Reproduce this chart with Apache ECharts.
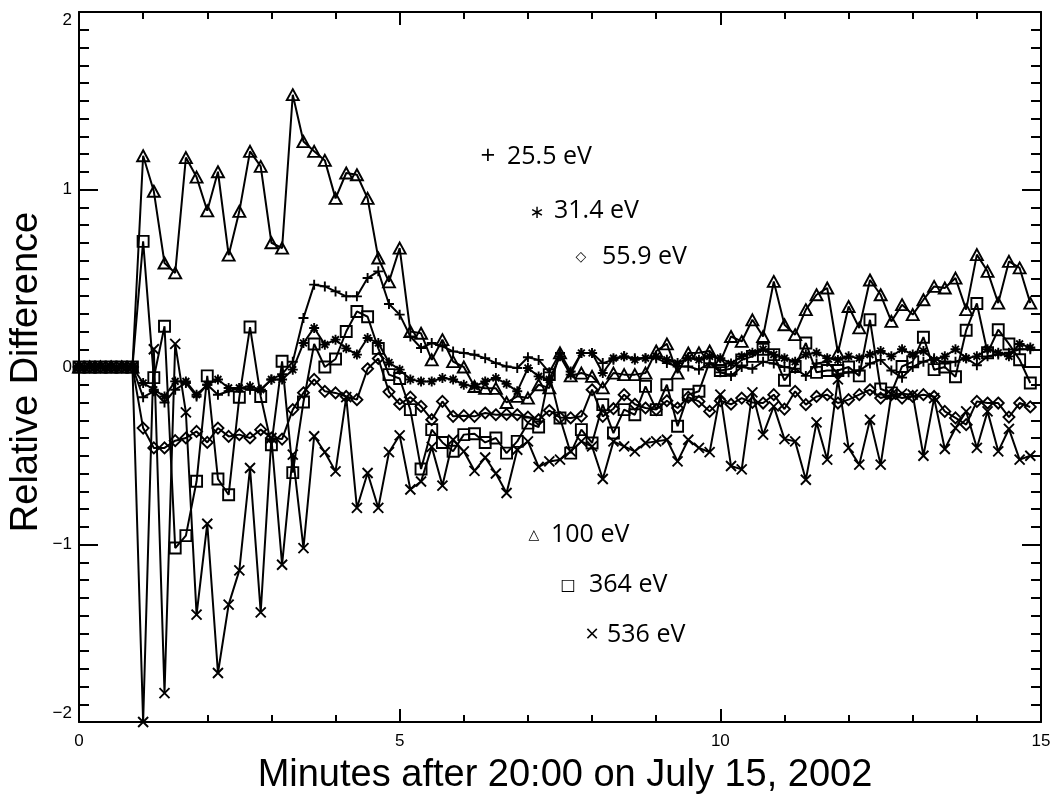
<!DOCTYPE html>
<html><head><meta charset="utf-8">
<script src="https://cdn.jsdelivr.net/npm/echarts@6/dist/echarts.min.js"></script>
<style>html,body{margin:0;padding:0;background:#fff}#chart{width:1058px;height:797px}</style>
</head><body><div id="chart"></div>
<script>
// Samples every 10 s (1/6 minute), index 0..89
const sampleStepMinutes = 1 / 6;

const ev25 = [0,0,0,0,0,0,
 -0.17,-0.137,-0.2,-0.128,-0.09,-0.166,-0.1,-0.156,-0.137,-0.118,-0.128,-0.128,-0.07,-0.04,
 0.03,0.276,0.464,0.454,0.426,0.398,0.398,0.501,0.539,0.355,
 0.295,0.172,0.107,0.135,0.116,0.088,0.079,0.069,0.05,0.022,
 0.003,-0.006,0.055,0.04,-0.03,0.079,-0.025,0.079,0.079,0.022,
 0.041,0.06,0.05,0.05,0.05,0.022,0.003,0.003,-0.015,0.022,
 -0.03,-0.05,0.0,-0.01,0.03,0.02,0.0,-0.01,-0.05,0.02,
 0.03,-0.04,-0.03,-0.02,0.02,0.04,-0.02,-0.06,0.0,0.03,
 0.05,0.02,0.03,0.05,0.01,0.06,0.07,0.08,0.1,0.1];

const ev31 = [0,0,0,0,0,0,
 -0.09,-0.128,-0.166,-0.081,-0.081,-0.156,-0.1,-0.07,-0.118,-0.118,-0.109,-0.128,-0.07,-0.07,
 -0.015,0.135,0.22,0.126,0.154,0.105,0.07,0.163,0.135,0.025,
 -0.015,-0.07,-0.081,-0.081,-0.062,-0.07,-0.1,-0.109,-0.081,-0.062,
 -0.095,-0.137,-0.006,-0.053,-0.07,0.06,-0.043,0.079,0.079,-0.034,
 0.05,0.06,0.041,0.05,0.06,0.041,0.022,0.05,0.041,0.06,
 0.05,0.02,0.06,0.08,0.1,0.07,0.05,0.03,0.07,0.08,
 0.05,0.04,0.06,0.05,0.07,0.09,0.06,0.1,0.07,0.09,
 0.04,0.06,0.1,0.05,0.06,0.1,0.08,0.06,0.13,0.11];

const ev56 = [0,0,0,0,0,0,
 -0.344,-0.456,-0.456,-0.415,-0.4,-0.363,-0.425,-0.344,-0.391,-0.381,-0.4,-0.353,-0.4,-0.406,
 -0.24,-0.145,-0.07,-0.137,-0.146,-0.166,-0.184,-0.01,0.048,-0.14,
 -0.21,-0.17,-0.222,-0.297,-0.194,-0.278,-0.274,-0.278,-0.259,-0.269,
 -0.267,-0.269,-0.282,-0.297,-0.245,-0.285,-0.287,-0.278,-0.128,-0.278,
 -0.235,-0.156,-0.21,-0.231,-0.24,-0.19,-0.231,-0.17,-0.194,-0.25,
 -0.19,-0.21,-0.175,-0.2,-0.203,-0.156,-0.237,-0.137,-0.212,-0.166,
 -0.156,-0.203,-0.184,-0.156,-0.128,-0.175,-0.156,-0.175,-0.166,-0.156,
 -0.166,-0.25,-0.287,-0.325,-0.194,-0.203,-0.203,-0.282,-0.203,-0.225];

const ev100 = [0,0,0,0,0,0,
 1.19,0.99,0.586,0.53,1.18,1.07,0.88,1.10,0.63,0.877,1.215,1.13,0.70,0.67,
 1.534,1.27,1.215,1.164,0.95,1.093,1.083,0.95,0.614,0.48,
 0.67,0.2,0.19,0.04,0.154,0.03,0.0,-0.11,-0.12,-0.12,
 -0.2,-0.165,-0.175,-0.1,-0.118,0.08,-0.05,-0.034,-0.053,-0.118,
 -0.034,-0.043,-0.043,-0.034,0.09,0.13,-0.034,0.079,0.08,0.09,
 0.03,0.172,0.144,0.266,0.172,0.482,0.238,0.182,0.323,0.407,
 0.445,0.079,0.341,0.22,0.49,0.407,0.257,0.351,0.295,0.379,
 0.454,0.445,0.501,0.323,0.633,0.539,0.36,0.595,0.558,0.36];

const ev364 = [0,0,0,0,0,0,
 0.708,-0.06,0.23,-1.02,-0.95,-0.644,-0.05,-0.631,-0.72,-0.17,0.225,-0.166,-0.438,0.032,
 -0.595,-0.197,0.13,0.0,0.045,0.2,0.313,0.283,0.105,-0.043,
 -0.065,-0.24,-0.575,-0.353,-0.425,-0.475,-0.381,-0.376,-0.425,-0.4,
 -0.485,-0.419,-0.316,-0.338,-0.043,-0.287,-0.485,-0.353,-0.428,-0.212,
 -0.372,-0.24,-0.269,-0.109,-0.24,-0.1,-0.334,-0.156,-0.137,0.03,
 -0.02,-0.01,0.04,0.06,0.1,0.07,-0.075,0.003,0.135,-0.03,
 -0.02,-0.02,0.0,-0.05,0.266,-0.124,-0.146,0.003,0.03,0.168,
 -0.015,0.0,-0.055,0.207,0.358,0.08,0.21,0.13,0.041,-0.09];

const ev536 = [0,0,0,0,0,0,
 -2.0,0.1,-1.837,0.13,-0.256,-1.395,-0.883,-1.724,-1.339,-1.146,-0.569,-1.382,-0.4,-1.114,
 -0.494,-1.02,-0.39,-0.48,-0.588,-0.17,-0.794,-0.597,-0.794,-0.48,
 -0.385,-0.69,-0.645,-0.45,-0.668,-0.41,-0.475,-0.585,-0.51,-0.6,
 -0.71,-0.466,-0.419,-0.563,-0.532,-0.522,-0.475,-0.419,-0.447,-0.631,
 -0.419,-0.447,-0.475,-0.428,-0.419,-0.41,-0.532,-0.41,-0.456,-0.48,
 -0.156,-0.558,-0.577,-0.143,-0.381,-0.222,-0.406,-0.419,-0.635,-0.312,
 -0.522,-0.07,-0.456,-0.55,-0.297,-0.55,-0.156,-0.15,-0.156,-0.5,
 -0.175,-0.462,-0.344,-0.25,-0.456,-0.25,-0.475,-0.349,-0.522,-0.5];

const seriesNames = ['25.5 eV','31.4 eV','55.9 eV','100 eV','364 eV','536 eV'];
const legendMarks = ['+','\u2217','\u25C7','\u25B3','\u25A1','\u00D7'];
const xTickLabels = ['0','5','10','15'];
const yTickLabels = ['\u22122','\u22121','0','1','2'];
const xTitle = 'Minutes after 20:00 on July 15, 2002';
const yTitle = 'Relative Difference';

const allValues = [ev25, ev31, ev56, ev100, ev364, ev536];

// marker styles (layout/style, not data)
const markerDefs = [
  {symbol:'path://M5,0L5,10M0,5L10,5', size:10},
  {symbol:'path://M5,0L5,10M0,5L10,5M1.6,1.6L8.4,8.4M1.6,8.4L8.4,1.6', size:10},
  {symbol:'diamond', size:[11,11]},
  {symbol:'triangle', size:[12,11]},
  {symbol:'rect', size:11},
  {symbol:'path://M0,0L10,10M0,10L10,0', size:10}
];

const chart = echarts.init(document.getElementById('chart'), null, {renderer:'canvas'});

function toPairs(vals){ return vals.map((v,k)=>[k*sampleStepMinutes, v]); }

const series = allValues.map((vals,i)=>({
  name: seriesNames[i],
  type:'line',
  xAxisIndex:0, yAxisIndex:0,
  data: toPairs(vals),
  symbol: markerDefs[i].symbol,
  symbolSize: markerDefs[i].size,
  showSymbol:true, showAllSymbol:true,
  clip:true,
  lineStyle:{color:'#000', width:2},
  itemStyle:{color:'rgba(0,0,0,0)', borderColor:'#000', borderWidth:1.9},
  emphasis:{disabled:true},
  animation:false
}));

const tickFont = 'Liberation Sans';
function xAxisDef(pos, showLabel){
  return {
    type:'value', position:pos, min:0, max:15, interval:5,
    axisLine:{show:true, onZero:false, lineStyle:{color:'#000', width:2}},
    axisTick:{show:true, inside:true, length:13, lineStyle:{color:'#000', width:2}},
    minorTick:{show:true, splitNumber:5, length:7, lineStyle:{color:'#000', width:2}},
    splitLine:{show:false}, minorSplitLine:{show:false},
    axisLabel:{show:showLabel, color:'#000', fontSize:17, fontFamily:tickFont, margin:11,
      formatter:(v)=>xTickLabels[Math.round(v/5)]}
  };
}
function yAxisDef(pos, showLabel){
  return {
    type:'value', position:pos, min:-2, max:2, interval:1,
    axisLine:{show:true, onZero:false, lineStyle:{color:'#000', width:2}},
    axisTick:{show:true, inside:true, length:19, lineStyle:{color:'#000', width:2}},
    minorTick:{show:true, splitNumber:10, length:10, lineStyle:{color:'#000', width:2}},
    splitLine:{show:false}, minorSplitLine:{show:false},
    axisLabel:{show:showLabel, color:'#000', fontSize:17, fontFamily:tickFont, margin:7,
      verticalAlignMaxLabel:'top', verticalAlignMinLabel:'bottom',
      formatter:(v)=>yTickLabels[Math.round(v)+2]}
  };
}

const legendLayout = [
  {mx:488, my:157, tx:507, ty:157, mfont:'26px "Open Sans"'},
  {mx:537, my:213, tx:554, ty:211, mfont:'18px "DejaVu Sans"'},
  {mx:581, my:257, tx:602, ty:257, mfont:'14px "DejaVu Sans"'},
  {mx:534, my:535, tx:551, ty:535, mfont:'14px "DejaVu Sans"'},
  {mx:568, my:586, tx:589, ty:585, mfont:'16px "DejaVu Sans"'},
  {mx:592, my:635, tx:607, ty:635, mfont:'24px "Open Sans"'}
];

const graphics = [];
legendLayout.forEach((L,i)=>{
  graphics.push({type:'text', x:L.mx, y:L.my, silent:true,
    style:{text:legendMarks[i], font:L.mfont, fill:'#000', align:'center', verticalAlign:'middle'}});
  graphics.push({type:'text', x:L.tx, y:L.ty, silent:true,
    style:{text:seriesNames[i], font:'25px "Open Sans"', fill:'#000', align:'left', verticalAlign:'middle'}});
});
graphics.push({type:'text', x:565, y:776, silent:true,
  style:{text:xTitle, font:'38px "Liberation Sans"', fill:'#000', align:'center', verticalAlign:'middle'}});
graphics.push({type:'text', x:27, y:372, rotation:Math.PI/2, silent:true,
  style:{text:yTitle, font:'38px "Liberation Sans"', fill:'#000', align:'center', verticalAlign:'middle'}});

chart.setOption({
  animation:false,
  backgroundColor:'#fff',
  grid:{left:79, top:12, width:962, height:710, containLabel:false},
  xAxis:[xAxisDef('bottom', true), xAxisDef('top', false)],
  yAxis:[yAxisDef('left', true), yAxisDef('right', false)],
  series: series,
  graphic: graphics
});
</script></body></html>
